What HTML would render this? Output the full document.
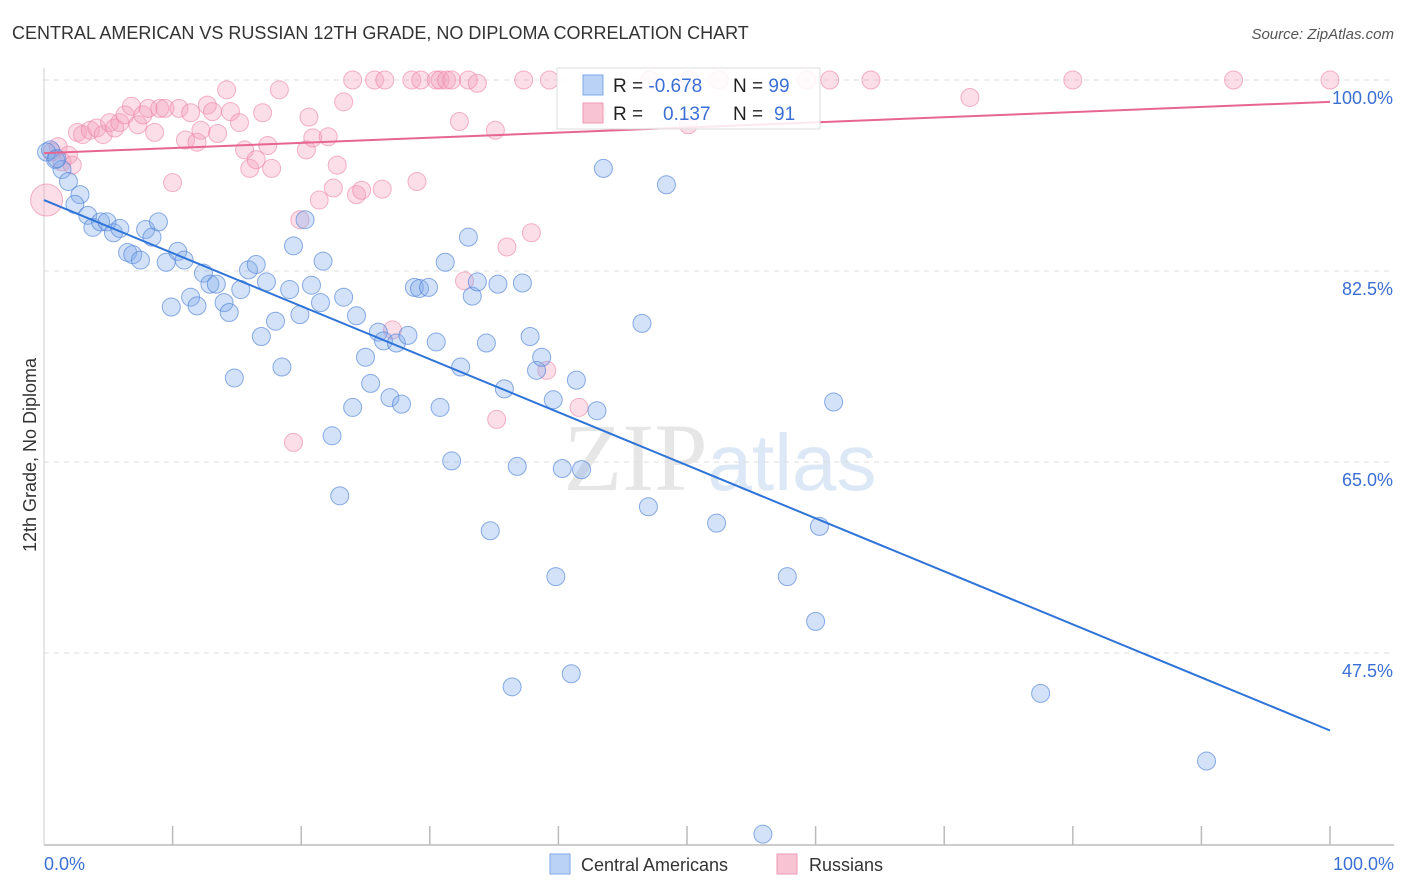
<!DOCTYPE html>
<html><head><meta charset="utf-8">
<style>
body{margin:0;background:#fff;font-family:"Liberation Sans",sans-serif;}
svg{display:block}
</style></head>
<body>
<svg id="chart" width="1406" height="892" xmlns="http://www.w3.org/2000/svg">
  <text x="12" y="39" font-size="18" fill="#333">CENTRAL AMERICAN VS RUSSIAN 12TH GRADE, NO DIPLOMA CORRELATION CHART</text>
  <text x="1394" y="39" font-size="15" fill="#555" font-style="italic" text-anchor="end">Source: ZipAtlas.com</text>
  <text x="720" y="490" font-size="96" fill="#e6e6e6" text-anchor="middle" font-family="Liberation Serif, serif">ZIP<tspan fill="#dce8f6" font-family="Liberation Sans, sans-serif" font-size="80">atlas</tspan></text>
  <g id="grid"></g>
  <g id="axes"></g>
  <g id="pts"></g>
  <g id="lines"></g>
  <text x="36" y="455" font-size="18" fill="#333" text-anchor="middle" transform="rotate(-90 36 455)">12th Grade, No Diploma</text>
  <g>
    <rect x="557" y="68" width="263" height="61" fill="#fff" fill-opacity="0.85" stroke="#ddd"/>
    <rect x="583" y="75" width="20" height="20" fill="#b9d2f5" stroke="#7fa9e6"/>
    <rect x="583" y="103" width="20" height="20" fill="#f8c3d3" stroke="#ee9ab4"/>
    <text x="613" y="92" font-size="19" fill="#222">R = <tspan fill="#3b6fd4">-0.678</tspan></text>
    <text x="733" y="92" font-size="19" fill="#222">N = <tspan fill="#3b6fd4">99</tspan></text>
    <text x="613" y="120" font-size="19" fill="#222">R = <tspan fill="#3b6fd4" x="663">0.137</tspan></text>
    <text x="733" y="120" font-size="19" fill="#222">N = <tspan fill="#3b6fd4" x="774">91</tspan></text>
  </g>
  <g>
    <rect x="550" y="854" width="20" height="20" fill="#b9d2f5" stroke="#7fa9e6"/>
    <text x="581" y="871" font-size="18" fill="#333">Central Americans</text>
    <rect x="777" y="854" width="20" height="20" fill="#f8c3d3" stroke="#ee9ab4"/>
    <text x="809" y="871" font-size="18" fill="#333">Russians</text>
  </g>
</svg>
<script>
const yTicks = [100, 82.5, 65, 47.5];
const yTickLabels = ["100.0%", "82.5%", "65.0%", "47.5%"];
const xTickValues = [10,20,30,40,50,60,70,80,90,100];
const xEndLabels = ["0.0%", "100.0%"];
const blueX = [0.5,0.9,1.4,1.9,2.8,2.4,3.4,3.8,4.4,4.9,5.4,5.9,6.5,6.9,7.5,7.9,8.4,8.9,9.5,9.9,10.4,10.9,11.4,11.9,12.4,12.9,13.4,14.0,14.4,14.8,15.3,15.9,16.5,16.9,17.3,18.0,18.5,19.1,19.4,19.9,20.3,20.8,21.5,21.7,22.4,23.0,23.3,24.0,24.3,25.0,25.4,26.0,26.4,26.9,27.4,27.8,28.3,28.8,29.2,29.9,30.5,30.8,31.2,31.7,32.4,33.0,33.3,33.7,34.4,34.7,35.3,35.8,36.4,36.8,37.2,37.8,38.3,38.7,39.6,39.8,40.3,41.0,41.4,41.8,43.0,43.5,46.5,47.0,48.4,52.3,55.9,57.8,60.0,60.3,61.4,77.5,90.4,0.2,1.0];
const blueY = [93.6,92.7,91.8,90.7,89.5,88.6,87.6,86.5,87.0,87.0,86.0,86.4,84.2,84.0,83.5,86.3,85.6,87.0,83.3,79.2,84.3,83.5,80.1,79.3,82.3,81.3,81.3,79.6,78.7,72.7,80.8,82.6,83.1,76.5,81.5,77.9,73.7,80.8,84.8,78.5,87.2,81.2,79.6,83.4,67.4,61.9,80.1,70.0,78.4,74.6,72.2,76.9,76.1,70.9,75.9,70.3,76.6,81.0,80.9,81.0,76.0,70.0,83.3,65.1,73.7,85.6,80.2,81.5,75.9,58.7,81.3,71.7,44.4,64.6,81.4,76.5,73.4,74.6,70.7,54.5,64.4,45.6,72.5,64.3,69.7,91.9,77.7,60.9,90.4,59.4,30.9,54.5,50.4,59.1,70.5,43.8,37.6,93.4,92.8];
const pinkX = [0.2,0.6,1.1,1.4,1.9,2.2,2.6,3.0,3.6,4.1,4.6,5.1,5.5,5.9,6.3,6.8,7.3,7.7,8.1,8.6,9.0,9.4,10.0,10.5,11.0,11.4,11.9,12.2,12.7,13.1,13.5,14.2,14.5,15.2,15.6,16.0,16.5,17.0,17.4,17.7,18.3,19.4,19.9,20.4,20.6,20.9,21.4,22.1,22.5,22.8,23.3,24.0,24.3,24.7,25.7,26.3,26.5,27.1,28.6,29.0,29.3,30.5,30.8,31.3,31.7,32.3,32.7,33.0,33.7,35.1,35.2,36.0,37.3,37.9,39.1,39.3,41.6,43.0,47.1,50.1,50.2,52.5,59.3,61.1,64.3,72.0,80.0,92.5,100];
const pinkY = [89.0,93.4,93.9,92.5,93.1,92.2,95.2,95.0,95.4,95.6,95.0,96.1,95.6,96.1,96.8,97.6,95.9,96.8,97.4,95.2,97.4,97.4,90.6,97.4,94.5,97.0,94.3,95.4,97.7,97.1,95.1,99.1,97.1,96.1,93.6,91.9,92.7,97.0,94.0,91.9,99.1,66.8,87.2,93.6,96.6,94.7,89.0,94.8,90.1,92.2,98.0,100,89.5,89.9,100,90.0,100,77.1,100,90.7,100,100,100,100,100,96.2,81.6,100,99.7,95.4,68.9,84.7,100,86.0,73.4,100,70.0,97.0,100,95.9,100,100,100,100,100,98.4,100,100,100];
const blueLine = [89.0, 40.4];
const pinkLine = [93.3, 98.0];

const NS = "http://www.w3.org/2000/svg";
const X0 = 44, X1 = 1330, YTOP = 80;
const PXPER = 191/17.5;
function sx(v){ return X0 + (X1 - X0) * v / 100; }
function sy(v){ return YTOP + (100 - v) * PXPER; }
function mk(tag, attrs, parent){ const e = document.createElementNS(NS, tag); for (const k in attrs) e.setAttribute(k, attrs[k]); parent.appendChild(e); return e; }

const grid = document.getElementById('grid');
yTicks.forEach((t, i) => {
  const l = mk('line', {x1: X0, x2: 1394, y1: sy(t), y2: sy(t), stroke: '#dcdcdc', 'stroke-dasharray': '5,5'}, grid);
  
  
  const tx = mk('text', {x: 1393, y: sy(t) + 24, 'font-size': 18, fill: '#3b6fd4', 'text-anchor': 'end'}, grid);
  tx.textContent = yTickLabels[i];
  
  
});
const axes = document.getElementById('axes');
const ax = mk('line', {x1: X0, x2: 1394, y1: 845, y2: 845, stroke: '#bbb', 'stroke-width': 1.5}, axes);


const ay = mk('line', {x1: X0, x2: X0, y1: 68, y2: 845, stroke: '#ccc', 'stroke-width': 1}, axes);


xTickValues.forEach(v => {
  const t = mk('line', {x1: sx(v), x2: sx(v), y1: 826, y2: 845, stroke: '#bbb', 'stroke-width': 1.5}, axes);
  
  
});
const xl0 = mk('text', {x: 44, y: 870, 'font-size': 18, fill: '#3b6fd4'}, axes);
xl0.textContent = xEndLabels[0];


const xl1 = mk('text', {x: 1394, y: 870, 'font-size': 18, fill: '#3b6fd4', 'text-anchor': 'end'}, axes);
xl1.textContent = xEndLabels[1];



const pts = document.getElementById('pts');
pinkX.forEach((v, i) => {
  const c = mk('circle', {cx: sx(v), cy: sy(pinkY[i]), r: i === 0 ? 16 : 9, fill: 'rgba(243,160,189,0.35)', stroke: 'rgba(236,130,165,0.6)', 'stroke-width': 1}, pts);
  
  
});
blueX.forEach((v, i) => {
  const c = mk('circle', {cx: sx(v), cy: sy(blueY[i]), r: 9, fill: 'rgba(130,172,235,0.35)', stroke: 'rgba(80,130,215,0.65)', 'stroke-width': 1}, pts);
  
  
});
const lines = document.getElementById('lines');
const bl = mk('line', {x1: sx(0), y1: sy(blueLine[0]), x2: sx(100), y2: sy(blueLine[1]), stroke: '#2f74d8', 'stroke-width': 2}, lines);


const pl = mk('line', {x1: sx(0), y1: sy(pinkLine[0]), x2: sx(100), y2: sy(pinkLine[1]), stroke: '#e6668f', 'stroke-width': 2}, lines);


</script>
</body></html>
